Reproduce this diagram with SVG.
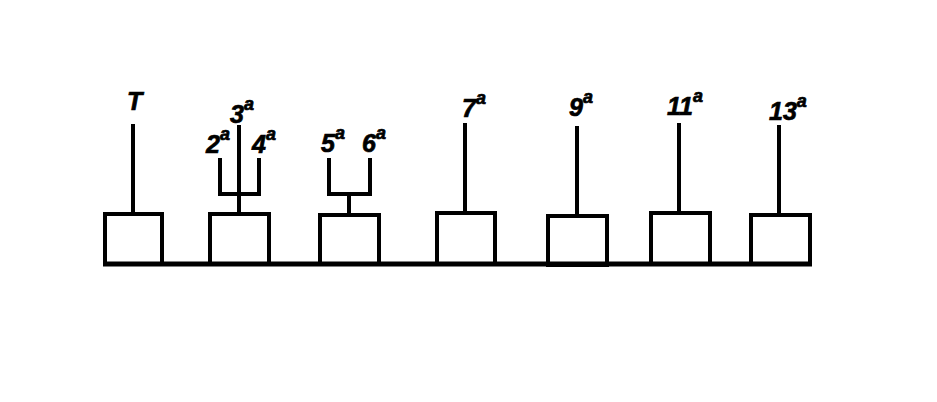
<svg xmlns="http://www.w3.org/2000/svg" width="937" height="402" viewBox="0 0 937 402">
<style>
.box{fill:none;stroke:#000;stroke-width:4}
.ln{fill:none;stroke:#000;stroke-width:4;stroke-linecap:butt;stroke-linejoin:miter}
.base{fill:none;stroke:#000;stroke-width:5}
.lbl{font-family:"Liberation Sans",Arial,sans-serif;font-weight:bold;font-style:italic;font-size:25px;fill:#000;stroke:#000;stroke-width:0.7}
.sup{font-size:18px}
</style>
<rect width="937" height="402" fill="#fff"/>
<g id="connectors">
<line class="base" x1="103" y1="264" x2="812" y2="264"/>
<line class="ln" x1="133" y1="124" x2="133" y2="213"/>
<line class="ln" x1="239" y1="125" x2="239" y2="213"/>
<path class="ln" d="M220,158 V194 H259 V158"/>
<path class="ln" d="M329,158 V194 H370 V158"/>
<line class="ln" x1="349" y1="194" x2="349" y2="214"/>
<line class="ln" x1="465" y1="123" x2="465" y2="212"/>
<line class="ln" x1="577" y1="126" x2="577" y2="215"/>
<line class="ln" x1="679" y1="123" x2="679" y2="212"/>
<line class="ln" x1="779" y1="125" x2="779" y2="214"/>
</g>
<g id="node-T">
<rect class="box" x="105" y="214" width="57" height="50"/>
<text class="lbl" x="127" y="110">T</text>
</g>
<g id="node-2">
<rect class="box" x="210" y="214" width="59" height="50"/>
<text class="lbl" x="230" y="123">3<tspan class="sup" dy="-13">a</tspan></text>
<text class="lbl" x="206" y="153">2<tspan class="sup" dy="-13">a</tspan></text>
<text class="lbl" x="252" y="153">4<tspan class="sup" dy="-13">a</tspan></text>
</g>
<g id="node-3">
<rect class="box" x="320" y="215" width="59" height="49"/>
<text class="lbl" x="321" y="152">5<tspan class="sup" dy="-13">a</tspan></text>
<text class="lbl" x="362" y="152">6<tspan class="sup" dy="-13">a</tspan></text>
</g>
<g id="node-4">
<rect class="box" x="437" y="213" width="58" height="51"/>
<text class="lbl" x="462" y="117">7<tspan class="sup" dy="-13">a</tspan></text>
</g>
<g id="node-5">
<rect class="box" x="548" y="216" width="59" height="49"/>
<text class="lbl" x="569" y="116">9<tspan class="sup" dy="-13">a</tspan></text>
</g>
<g id="node-6">
<rect class="box" x="651" y="213" width="59" height="51"/>
<text class="lbl" x="667" y="115">11<tspan class="sup" dy="-13">a</tspan></text>
</g>
<g id="node-7">
<rect class="box" x="751" y="215" width="59" height="49"/>
<text class="lbl" x="769" y="120">13<tspan class="sup" dy="-13">a</tspan></text>
</g>
</svg>
